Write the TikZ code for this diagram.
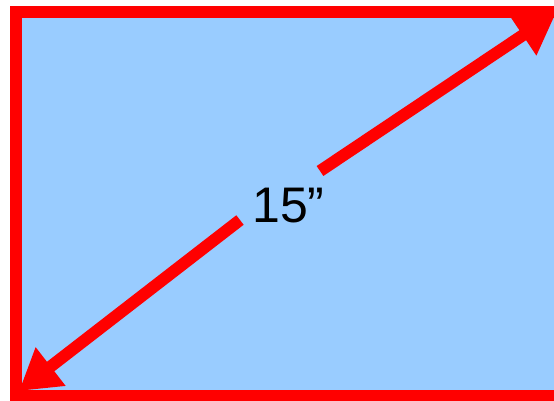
\documentclass[tikz,border=0pt]{standalone}
\usepackage{fontspec}
\setmainfont{Liberation Sans}
\usetikzlibrary{arrows.meta}
\definecolor{screenblue}{HTML}{99CCFF}
\definecolor{framered}{HTML}{FF0000}
\begin{document}
\begin{tikzpicture}[x=1pt,y=-1pt,
  frame/.style={draw=framered,line width=12pt,fill=screenblue},
  diag/.style={draw=framered,line width=12pt,-{Triangle[width=46pt,length=40pt]}},
  label/.style={font=\fontsize{50}{50}\selectfont,text=black,inner sep=0pt,anchor=base}]
\useasboundingbox (0,0) rectangle (554,401);
\clip (0,0) rectangle (554,401);
\fill[white] (0,0) rectangle (554,401);
\draw[frame] (16,12) rectangle (580,396);
\node[label] (size) at (288.5,222.5) {15”};
\coordinate (upstart) at (320,171);
\coordinate (uptip) at (556,13);
\coordinate (lowstart) at (240,220);
\coordinate (lowtip) at (19,391);
\draw[diag] (upstart) -- (uptip);
\draw[diag] (lowstart) -- (lowtip);
\end{tikzpicture}
\end{document}
